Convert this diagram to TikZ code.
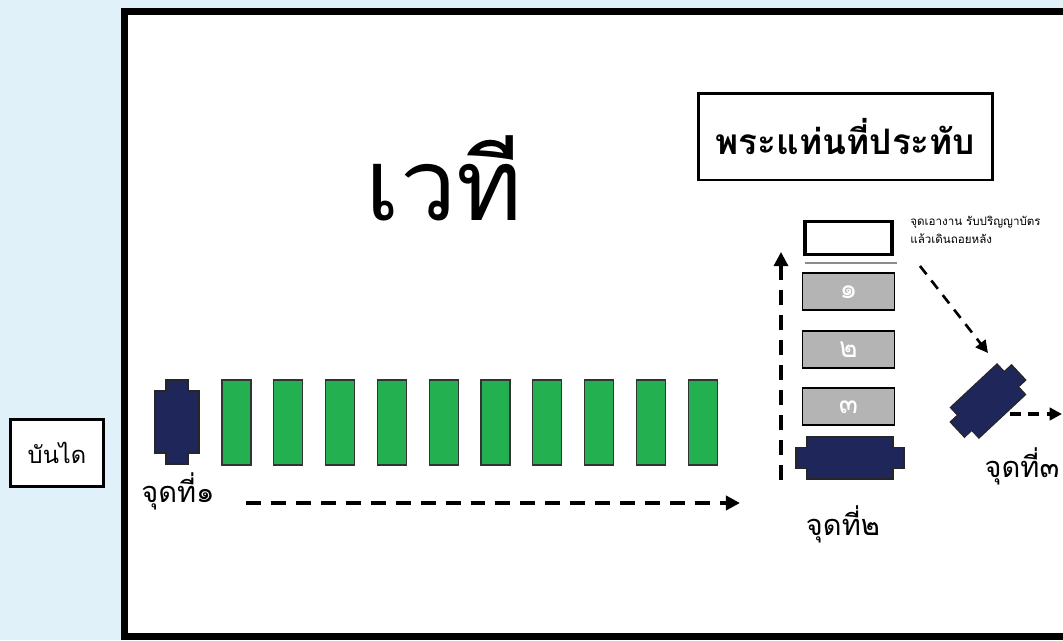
\documentclass[tikz,border=0pt]{standalone}
\usepackage{fontspec}
\newfontfamily\thaifont[Script=Thai]{Loma}
\usetikzlibrary{arrows.meta, positioning}

\definecolor{skybg}{RGB}{224,241,250}
\definecolor{seatgreen}{RGB}{35,176,80}
\definecolor{thronenavy}{RGB}{31,38,89}
\definecolor{stepgray}{RGB}{180,180,180}

% navy throne outline: half width, half length, half tab width, tab reach
\tikzset{pics/throne/.style n args={4}{code={
    \filldraw[fill=thronenavy, draw=black!85, line width=0.6pt]
      (-#1,-#2) -- (-#3,-#2) -- (-#3,-#2-#4) -- (#3,-#2-#4) -- (#3,-#2) -- (#1,-#2)
      -- (#1,#2) -- (#3,#2) -- (#3,#2+#4) -- (-#3,#2+#4) -- (-#3,#2) -- (-#1,#2) -- cycle;
}}}

\begin{document}
\begin{tikzpicture}[
    x=0.02cm, y=-0.02cm,
    font=\thaifont,
    node distance=0.37cm,
    seat/.style={rectangle, draw=black!80, line width=0.6pt, fill=seatgreen, minimum width=0.58cm, minimum height=1.7cm, inner sep=0pt},
    stepbox/.style={rectangle, draw, line width=1.1pt, fill=stepgray, minimum width=1.84cm, minimum height=0.74cm, inner sep=0pt, text=white, font=\thaifont\fontsize{16}{16}\selectfont},
    spot/.style={anchor=base, inner sep=0pt, font=\thaifont\fontsize{16.5}{16.5}\selectfont},
    walk/.style={draw, line width=2.2pt, dash pattern=on 8.5pt off 5.7pt, -{Triangle[length=8pt, width=8pt]}},
    walkthin/.style={draw, line width=1.5pt, dash pattern=on 6pt off 4.5pt, -{Triangle[length=7pt, width=7pt]}}
]

    % Page and hall
    \useasboundingbox (0,0) rectangle (1063,640);
    \fill[skybg] (0,0) rectangle (1063,640);
    \draw[line width=4pt, fill=white] (124.5,11.5) rectangle (1080,636.5);

    % Nodes
    \node (stairs) [draw, line width=1.7pt, fill=white, minimum width=1.88cm, minimum height=1.34cm, font=\thaifont\fontsize{13.5}{13.5}\selectfont] at (57,453) {บันได};
    \node (stage) [anchor=base, inner sep=0pt, font=\thaifont\fontsize{57}{57}\selectfont] at (444,220) {เวที};
    \node (dais) [draw, line width=1.7pt, minimum width=5.9cm, minimum height=1.74cm, font=\thaifont\bfseries\fontsize{20}{20}\selectfont] at (845.5,136.5) {พระแท่นที่ประทับ};

    % Green seats in a row
    \foreach \i in {0,...,9}
        \node (seat\i) [seat] at (236.5+51.8*\i,422.5) {};

    % Thrones
    \pic (leftthrone) at (177,422) {throne={22}{31}{11}{11}};
    \pic (midthrone) [rotate=90] at (850,458) {throne={21}{43}{10.5}{11}};
    \pic (rightthrone) [rotate=-47] at (988,401) {throne={21}{32}{10.5}{10}};

    % Column of steps to the dais
    \node (hand) [draw, line width=2.2pt, fill=white, minimum width=1.74cm, minimum height=0.66cm, inner sep=0pt] at (848.5,238) {};
    \node (step1) [stepbox, below=0.32cm of hand] {๑};
    \node (step2) [stepbox, below=of step1] {๒};
    \node (step3) [stepbox, below=of step2] {๓};
    \draw[black!45, line width=0.6pt] (805,263) -- (897,263);

    % Note
    \node (note) [anchor=base west, inner sep=0pt, align=left, font=\thaifont\fontsize{6.6}{10}\selectfont] at (910,243) {จุดเอางาน รับปริญญาบัตร\\แล้วเดินถอยหลัง};

    % Point labels
    \node (spot1) [spot] at (178,502) {จุดที่๑};
    \node (spot2) [spot] at (843,535) {จุดที่๒};
    \node (spot3) [spot] at (1022,477) {จุดที่๓};

    % Connections
    \coordinate (walkA) at (246,503);
    \coordinate (walkB) at (740,503);
    \coordinate (upA) at (781,480);
    \coordinate (upB) at (781,252);
    \coordinate (backA) at (920,266);
    \coordinate (backB) at (988,353);
    \coordinate (outA) at (1010,414);
    \coordinate (outB) at (1062,414);
    \draw [walk] (walkA) -- (walkB);
    \draw [walk, line width=1.8pt] (upA) -- (upB);
    \draw [walkthin] (backA) -- (backB);
    \draw [walkthin, line width=1.8pt] (outA) -- (outB);

\end{tikzpicture}
\end{document}
